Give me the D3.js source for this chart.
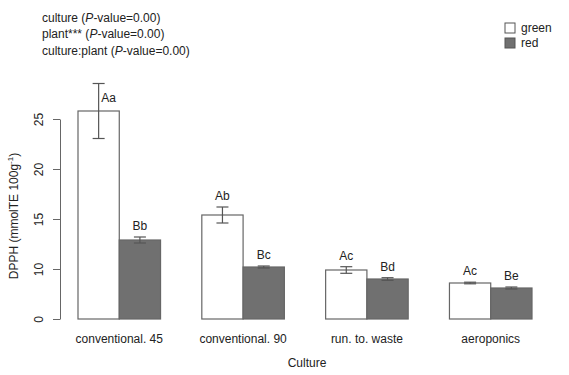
<!DOCTYPE html>
<html>
<head>
<meta charset="utf-8">
<script src="https://cdn.jsdelivr.net/npm/d3@7"></script>
<style>
  body { margin: 0; background: #fff; }
  svg { font-family: "Liberation Sans", Arial, sans-serif; }
  text { fill: #222; }
</style>
</head>
<body>
<div id="chart"></div>
<script>
var cultures = ["conventional. 45", "conventional. 90", "run. to. waste", "aeroponics"];
var plants = ["green", "red"];

var greenMean = [25.8, 15.4, 9.9, 8.6];
var greenErr = [2.75, 0.8, 0.33, 0.08];
var redMean = [12.9, 10.2, 9.0, 8.1];
var redErr = [0.3, 0.1, 0.13, 0.1];

var greenLetters = ["Aa", "Ab", "Ac", "Ac"];
var redLetters = ["Bb", "Bc", "Bd", "Be"];

// the figure's axis starts at 5 but its lowest tick is printed as "0"
var yTickValues = [5, 10, 15, 20, 25];
var yTickLabels = ["0", "10", "15", "20", "25"];

var anovaLines = [
    ["culture (", "P", "-value=0.00)"],
    ["plant*** (", "P", "-value=0.00)"],
    ["culture:plant (", "P", "-value=0.00)"]
];

var width = 569, height = 375;
var plot = {left: 60, top: 119, bottom: 319, barsLeft: 78, barsRight: 532};

var fills = {green: "#ffffff", red: "#707070"};

var rows = cultures.map(function(c, i) {
    return {
        culture: c,
        bars: [
            {plant: "green", mean: greenMean[i], err: greenErr[i], letter: greenLetters[i]},
            {plant: "red", mean: redMean[i], err: redErr[i], letter: redLetters[i]}
        ]
    };
});

var svg = d3.select("#chart").append("svg")
    .attr("width", width)
    .attr("height", height);

var y = d3.scaleLinear()
    .domain([5, 25])
    .range([plot.bottom, plot.top]);

var x0 = d3.scaleBand()
    .domain(cultures)
    .range([plot.barsLeft, plot.barsRight])
    .paddingInner(1 / 3)
    .paddingOuter(0);

var x1 = d3.scaleBand()
    .domain(plants)
    .range([0, x0.bandwidth()]);

// y axis
var yAxis = svg.append("g")
    .attr("transform", "translate(" + plot.left + ",0)")
    .call(d3.axisLeft(y)
        .tickValues(yTickValues)
        .tickFormat(function(d, i) { return yTickLabels[i]; })
        .tickSize(7)
        .tickSizeOuter(0));
yAxis.select(".domain").attr("stroke", "#666");
yAxis.selectAll(".tick line").attr("stroke", "#666");
yAxis.selectAll(".tick text")
    .attr("fill", "#222")
    .attr("font-size", 12)
    .attr("font-family", "Liberation Sans, Arial, sans-serif")
    .attr("transform", "rotate(-90)")
    .attr("text-anchor", "middle")
    .attr("x", 0)
    .attr("y", -17)
    .attr("dy", 0);

// y title
var yTitle = svg.append("text")
    .attr("transform", "translate(18,216) rotate(-90)")
    .attr("text-anchor", "middle")
    .attr("font-size", 12);
yTitle.append("tspan").text("DPPH (mmolTE 100g");
yTitle.append("tspan").attr("font-size", 8).attr("dy", -5).text("-1");
yTitle.append("tspan").attr("dy", 5).text(")");

// bars
var groups = svg.selectAll(".group")
    .data(rows)
    .enter().append("g")
    .attr("class", "group")
    .attr("transform", function(d) { return "translate(" + x0(d.culture) + ",0)"; });

groups.selectAll("rect")
    .data(function(d) { return d.bars; })
    .enter().append("rect")
    .attr("x", function(d) { return x1(d.plant); })
    .attr("y", function(d) { return y(d.mean); })
    .attr("width", x1.bandwidth())
    .attr("height", function(d) { return y(5) - y(d.mean); })
    .attr("fill", function(d) { return fills[d.plant]; })
    .attr("stroke", "#666")
    .attr("stroke-width", 1.2);

// error bars
var errs = groups.selectAll(".err")
    .data(function(d) { return d.bars; })
    .enter().append("g")
    .attr("class", "err")
    .attr("stroke", "#555")
    .attr("stroke-width", 1.2);
errs.append("line")
    .attr("x1", function(d) { return x1(d.plant) + x1.bandwidth() / 2; })
    .attr("x2", function(d) { return x1(d.plant) + x1.bandwidth() / 2; })
    .attr("y1", function(d) { return y(d.mean - d.err); })
    .attr("y2", function(d) { return y(d.mean + d.err); });
[-1, 1].forEach(function(s) {
    errs.append("line")
        .attr("x1", function(d) { return x1(d.plant) + x1.bandwidth() / 2 - 6; })
        .attr("x2", function(d) { return x1(d.plant) + x1.bandwidth() / 2 + 6; })
        .attr("y1", function(d) { return y(d.mean + s * d.err); })
        .attr("y2", function(d) { return y(d.mean + s * d.err); });
});

// letters: above the error bar, or beside it when that would leave the plot
groups.selectAll(".letter")
    .data(function(d) { return d.bars; })
    .enter().append("text")
    .attr("class", "letter")
    .attr("font-size", 12)
    .attr("text-anchor", "middle")
    .attr("x", function(d) {
        var cx = x1(d.plant) + x1.bandwidth() / 2;
        return d.mean + d.err > 25 ? cx + 10 : cx;
    })
    .attr("y", function(d) {
        return d.mean + d.err > 25 ? y(d.mean) - 9 : y(d.mean + d.err) - 7;
    })
    .text(function(d) { return d.letter; });

// x labels
svg.selectAll(".xlab")
    .data(cultures)
    .enter().append("text")
    .attr("class", "xlab")
    .attr("font-size", 12)
    .attr("text-anchor", "middle")
    .attr("x", function(d) { return x0(d) + x0.bandwidth() / 2; })
    .attr("y", 343)
    .text(function(d) { return d; });

svg.append("text")
    .attr("x", 307)
    .attr("y", 367)
    .attr("text-anchor", "middle")
    .attr("font-size", 12)
    .text("Culture");

// anova text
anovaLines.forEach(function(parts, i) {
    var t = svg.append("text")
        .attr("x", 42)
        .attr("y", 22 + i * 16.4)
        .attr("font-size", 12);
    t.append("tspan").text(parts[0]);
    t.append("tspan").attr("font-style", "italic").text(parts[1]);
    t.append("tspan").text(parts[2]);
});

// legend
var legend = svg.selectAll(".legend")
    .data(plants)
    .enter().append("g")
    .attr("class", "legend")
    .attr("transform", function(d, i) { return "translate(505," + (23 + i * 15) + ")"; });
legend.append("rect")
    .attr("width", 10)
    .attr("height", 10)
    .attr("fill", function(d) { return fills[d]; })
    .attr("stroke", "#555");
legend.append("text")
    .attr("x", 16)
    .attr("y", 9)
    .attr("font-size", 12)
    .text(function(d) { return d; });
</script>
</body>
</html>
